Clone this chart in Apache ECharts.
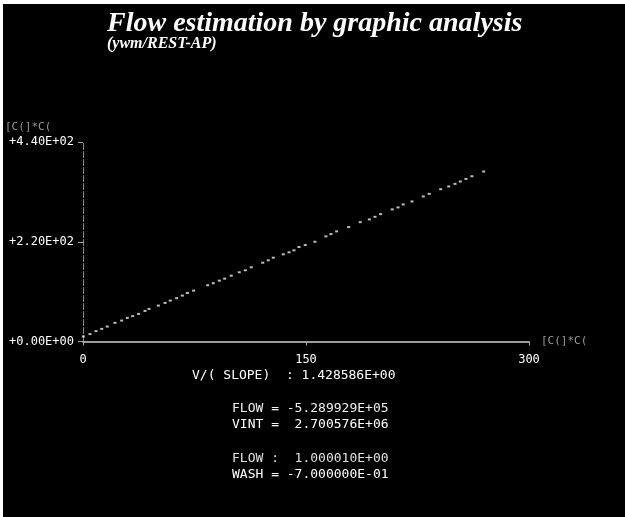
<!DOCTYPE html>
<html>
<head>
<meta charset="utf-8">
<script src="https://cdn.jsdelivr.net/npm/echarts@6/dist/echarts.min.js"></script>
<style>html,body{margin:0;padding:0;background:#000;}#c{width:625px;height:517px;}</style>
</head>
<body>
<div id="c"></div>
<script>
const titleText = 'Flow estimation by graphic analysis';
const subtitleText = '(ywm/REST-AP)';
const xTickLabels = {0: '0', 150: '150', 300: '300'};
const yTickLabels = {0: '+0.00E+00', 220: '+2.20E+02', 440: '+4.40E+02'};
const xAxisName = '[C(]*C(';
const yAxisName = '[C(]*C(';
const xVals = [0.2,4.7,8.7,12.6,16.3,21.5,26.0,29.8,33.4,37.4,41.7,44.4,50.7,55.2,58.7,63.0,66.8,70.2,74.4,83.9,87.6,91.7,95.3,99.7,105.1,109.2,113.2,120.9,124.6,128.0,134.7,138.6,141.9,145.3,149.5,156.0,163.4,166.8,170.6,178.7,186.5,192.6,196.4,200.2,208.0,211.9,215.4,221.3,228.9,232.9,240.6,246.0,250.2,253.8,257.6,261.6,269.5];
const yVals = [11,16.3,22.9,27.9,33,41.1,46.2,52.1,55.9,60.9,67.5,71.9,79.2,85.1,90.2,95.5,101.2,107.1,112.2,124.1,128.5,134.2,138.6,145.2,152.7,157.1,163.7,173.8,179.1,184.8,192.3,196.7,201.1,208.3,212.7,220,231.9,236.9,242.9,252.3,263.3,269.3,275,280.9,291.3,295.7,302.3,308.9,319.9,325.6,335.9,341.9,347.6,352.9,358.6,364.5,374.9];
const resultLines = [
  'V/( SLOPE)  : 1.428586E+00',
  'FLOW = -5.289929E+05',
  'VINT =  2.700576E+06',
  'FLOW :  1.000010E+00',
  'WASH = -7.000000E-01'
];

const chart = echarts.init(document.getElementById('c'), null, {renderer: 'canvas'});
const mono = 'DejaVu Sans Mono';
const points = xVals.map((x, i) => [x, yVals[i]]);

chart.setOption({
  backgroundColor: '#000',
  animation: false,
  grid: {left: 83, right: 96, top: 142, bottom: 175.5},
  xAxis: {
    type: 'value', min: 0, max: 300, interval: 150,
    name: xAxisName, nameLocation: 'end', nameGap: 12,
    nameTextStyle: {color: '#9a9a9a', fontFamily: mono, fontSize: 11, verticalAlign: 'middle'},
    axisLine: {lineStyle: {color: '#d0d0d0', width: 1.5}},
    axisTick: {show: true, length: 4, inside: false, lineStyle: {color: '#aaa'}},
    splitLine: {show: false},
    axisLabel: {color: '#fff', fontFamily: mono, fontSize: 12, margin: 12,
      formatter: v => xTickLabels[v] !== undefined ? xTickLabels[v] : ''}
  },
  yAxis: {
    type: 'value', min: 0, max: 440, interval: 220,
    axisLine: {lineStyle: {color: '#8a8a8a', width: 1, type: [6, 2]}},
    axisTick: {show: true, length: 5, lineStyle: {color: '#aaa'}},
    splitLine: {show: false},
    axisLabel: {color: '#fff', fontFamily: mono, fontSize: 12, margin: 9,
      formatter: v => yTickLabels[v] !== undefined ? yTickLabels[v] : ''}
  },
  series: [{
    type: 'scatter',
    data: points,
    symbol: 'rect',
    symbolSize: [3, 2],
    itemStyle: {color: '#ececec'}
  }],
  graphic: [
    {type: 'rect', left: 0, top: 0, shape: {width: 625, height: 4}, style: {fill: '#fff'}, silent: true},
    {type: 'rect', left: 0, top: 0, shape: {width: 3, height: 517}, style: {fill: '#fff'}, silent: true},
    {type: 'text', left: 107, top: 10, style: {text: titleText, fill: '#fff',
      font: 'italic bold 28px "Liberation Serif"'}},
    {type: 'text', left: 107, top: 36, style: {text: subtitleText, fill: '#fff',
      font: 'italic bold 16px "Liberation Serif"'}},
    {type: 'text', left: 5, top: 122, style: {text: yAxisName, fill: '#9a9a9a',
      font: '11px "DejaVu Sans Mono"'}},
    {type: 'text', left: 192, top: 369, style: {text: resultLines[0], fill: '#fff', font: '13px "DejaVu Sans Mono"'}},
    {type: 'text', left: 232, top: 402, style: {text: resultLines[1], fill: '#f0f0f0', font: '13px "DejaVu Sans Mono"'}},
    {type: 'text', left: 232, top: 418, style: {text: resultLines[2], fill: '#fff', font: '13px "DejaVu Sans Mono"'}},
    {type: 'text', left: 232, top: 452, style: {text: resultLines[3], fill: '#e0e0e0', font: '13px "DejaVu Sans Mono"'}},
    {type: 'text', left: 232, top: 468, style: {text: resultLines[4], fill: '#fff', font: '13px "DejaVu Sans Mono"'}}
  ]
});
</script>
</body>
</html>
